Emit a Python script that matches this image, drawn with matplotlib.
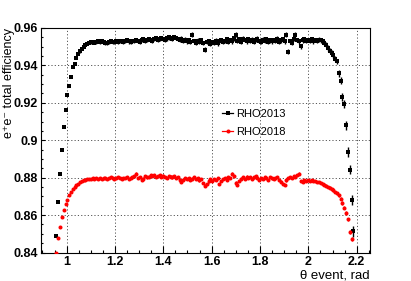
import numpy as np
import matplotlib
matplotlib.use("Agg")
import matplotlib.pyplot as plt
from matplotlib.lines import Line2D
from matplotlib.ticker import MultipleLocator, FuncFormatter

plt.rcParams['font.family'] = ['Liberation Sans', 'DejaVu Sans']

# histogram binning in theta (bin centres of first and last bin)
theta_first, theta_last = 0.958, 2.186

# RHO2013 efficiency per theta bin
eff2013 = [
    0.849, 0.867, 0.882, 0.895, 0.907, 0.916, 0.924, 0.929, 0.934, 0.939,
    0.941, 0.944, 0.946, 0.9475, 0.9489, 0.950, 0.951, 0.9516, 0.9521, 0.9524,
    0.9527, 0.9522, 0.9526, 0.9530, 0.9524, 0.9528, 0.9523, 0.9520, 0.9518, 0.9525,
    0.9529, 0.9524, 0.9527, 0.9531, 0.9526, 0.9529, 0.9533, 0.9525, 0.9530, 0.9535,
    0.9528, 0.9524, 0.9532, 0.9529, 0.9537, 0.9531, 0.9526, 0.9534, 0.9539, 0.9530,
    0.9536, 0.9542, 0.9535, 0.9531, 0.9540, 0.9545, 0.9538, 0.9543, 0.9548, 0.9541,
    0.9536, 0.9544, 0.9550, 0.9546, 0.9541, 0.9552, 0.9547, 0.9540, 0.9535, 0.9543,
    0.9531, 0.9538, 0.9529, 0.9534, 0.9526, 0.9563, 0.9530, 0.9522, 0.9533, 0.9527,
    0.9536, 0.9519, 0.9484, 0.9524, 0.9530, 0.9515, 0.9526, 0.9521, 0.9532, 0.9518,
    0.9528, 0.9537, 0.9524, 0.9530, 0.9541, 0.9527, 0.9535, 0.9529, 0.9545, 0.9565,
    0.9532, 0.9539, 0.9526, 0.9543, 0.9535, 0.9529, 0.9541, 0.9533, 0.9538, 0.9524,
    0.9536, 0.9543, 0.9530, 0.9527, 0.9538, 0.9532, 0.9540, 0.9526, 0.9534, 0.9529,
    0.9537, 0.9531, 0.9543, 0.9525, 0.9534, 0.9540, 0.9528, 0.9565, 0.9474, 0.9530,
    0.9522, 0.9541, 0.9565, 0.9536, 0.9528, 0.9503, 0.9534, 0.9541, 0.9530, 0.9537,
    0.9532, 0.9539, 0.9528, 0.9535, 0.9531, 0.9538, 0.9534, 0.9530, 0.9522, 0.9510,
    0.9493, 0.9478, 0.9466, 0.9454, 0.9436, 0.9421, 0.9359, 0.9318, 0.9230, 0.9193,
    0.9080, 0.8937, 0.8843, 0.8679, 0.8514,
]
err2013 = [
    0.0005, 0.0005, 0.0005, 0.0005, 0.0005, 0.0005, 0.0005, 0.0005, 0.0005, 0.0005,
    0.0006, 0.0006, 0.0006, 0.0006, 0.0007, 0.0007, 0.0007, 0.0008, 0.0008, 0.0008,
    0.0010, 0.0010, 0.0010, 0.0010, 0.0010, 0.0010, 0.0010, 0.0010, 0.0010, 0.0010,
    0.0010, 0.0010, 0.0010, 0.0010, 0.0010, 0.0010, 0.0010, 0.0011, 0.0010, 0.0010,
    0.0011, 0.0010, 0.0011, 0.0010, 0.0011, 0.0011, 0.0010, 0.0011, 0.0011, 0.0011,
    0.0011, 0.0011, 0.0011, 0.0011, 0.0011, 0.0011, 0.0011, 0.0011, 0.0011, 0.0011,
    0.0012, 0.0012, 0.0012, 0.0012, 0.0012, 0.0012, 0.0012, 0.0012, 0.0012, 0.0012,
    0.0012, 0.0012, 0.0012, 0.0012, 0.0012, 0.0013, 0.0012, 0.0012, 0.0012, 0.0012,
    0.0012, 0.0012, 0.0013, 0.0012, 0.0012, 0.0012, 0.0012, 0.0012, 0.0012, 0.0012,
    0.0012, 0.0012, 0.0012, 0.0012, 0.0012, 0.0012, 0.0012, 0.0012, 0.0012, 0.0013,
    0.0012, 0.0012, 0.0012, 0.0012, 0.0012, 0.0012, 0.0012, 0.0012, 0.0012, 0.0012,
    0.0012, 0.0012, 0.0012, 0.0012, 0.0012, 0.0012, 0.0012, 0.0012, 0.0012, 0.0012,
    0.0012, 0.0012, 0.0012, 0.0012, 0.0012, 0.0012, 0.0012, 0.0013, 0.0013, 0.0012,
    0.0012, 0.0012, 0.0013, 0.0012, 0.0012, 0.0013, 0.0012, 0.0012, 0.0012, 0.0012,
    0.0012, 0.0012, 0.0012, 0.0012, 0.0012, 0.0012, 0.0012, 0.0013, 0.0013, 0.0013,
    0.0014, 0.0014, 0.0014, 0.0014, 0.0015, 0.0015, 0.0019, 0.0020, 0.0022, 0.0023,
    0.0024, 0.0025, 0.0026, 0.0027, 0.0029,
]

# RHO2018 efficiency per theta bin
eff2018 = [
    0.8400, 0.8477, 0.8535, 0.8589, 0.8625, 0.8661, 0.8682, 0.8709, 0.8723, 0.8737,
    0.8750, 0.8759, 0.8768, 0.8775, 0.8780, 0.8786, 0.8789, 0.8791, 0.8793, 0.8795,
    0.8796, 0.8794, 0.8797, 0.8795, 0.8798, 0.8794, 0.8796, 0.8799, 0.8795, 0.8797,
    0.8801, 0.8796, 0.8794, 0.8799, 0.8802, 0.8796, 0.8793, 0.8800, 0.8797, 0.8803,
    0.8791, 0.8799, 0.8805, 0.8810, 0.8822, 0.8798, 0.8803, 0.8789, 0.8795, 0.8808,
    0.8801, 0.8806, 0.8815, 0.8807, 0.8812, 0.8803, 0.8809, 0.8816, 0.8805, 0.8811,
    0.8804, 0.8799, 0.8810, 0.8806, 0.8801, 0.8808, 0.8797, 0.8803, 0.8786, 0.8779,
    0.8790, 0.8798, 0.8792, 0.8799, 0.8788, 0.8795, 0.8802, 0.8791, 0.8797, 0.8785,
    0.8792, 0.8770, 0.8758, 0.8765, 0.8780, 0.8791, 0.8784, 0.8793, 0.8786, 0.8798,
    0.8768, 0.8781, 0.8792, 0.8799, 0.8787, 0.8803, 0.8797, 0.8822, 0.8808, 0.8774,
    0.8762, 0.8783, 0.8795, 0.8801, 0.8792, 0.8806, 0.8798, 0.8803, 0.8795, 0.8801,
    0.8808, 0.8797, 0.8790, 0.8800, 0.8794, 0.8805, 0.8799, 0.8788, 0.8802, 0.8796,
    0.8791, 0.8799, 0.8804, 0.8786, 0.8779, 0.8768, 0.8760, 0.8785, 0.8797, 0.8805,
    0.8800, 0.8810, 0.8806, 0.8815, 0.8822, 0.8781, 0.8778, 0.8786, 0.8782, 0.8788,
    0.8784, 0.8786, 0.8781, 0.8783, 0.8778, 0.8776, 0.8772, 0.8768, 0.8763, 0.8758,
    0.8752, 0.8747, 0.8740, 0.8732, 0.8724, 0.8716, 0.8705, 0.8687, 0.8665, 0.8640,
    0.8610, 0.8577, 0.8509, 0.8473, 0.8380,
]
err2018 = [
    0.0004, 0.0004, 0.0004, 0.0004, 0.0004, 0.0004, 0.0004, 0.0004, 0.0004, 0.0004,
    0.0004, 0.0004, 0.0004, 0.0004, 0.0004, 0.0004, 0.0004, 0.0004, 0.0004, 0.0004,
    0.0005, 0.0005, 0.0005, 0.0005, 0.0005, 0.0005, 0.0005, 0.0005, 0.0005, 0.0005,
    0.0005, 0.0005, 0.0005, 0.0005, 0.0005, 0.0005, 0.0005, 0.0005, 0.0005, 0.0005,
    0.0006, 0.0006, 0.0006, 0.0006, 0.0006, 0.0006, 0.0006, 0.0006, 0.0006, 0.0006,
    0.0006, 0.0006, 0.0006, 0.0006, 0.0006, 0.0006, 0.0006, 0.0006, 0.0006, 0.0006,
    0.0006, 0.0006, 0.0006, 0.0006, 0.0006, 0.0006, 0.0006, 0.0006, 0.0006, 0.0006,
    0.0006, 0.0006, 0.0006, 0.0006, 0.0006, 0.0006, 0.0006, 0.0006, 0.0006, 0.0006,
    0.0006, 0.0006, 0.0006, 0.0006, 0.0006, 0.0006, 0.0006, 0.0006, 0.0006, 0.0006,
    0.0006, 0.0006, 0.0006, 0.0006, 0.0006, 0.0006, 0.0006, 0.0006, 0.0006, 0.0006,
    0.0006, 0.0006, 0.0006, 0.0006, 0.0006, 0.0006, 0.0006, 0.0006, 0.0006, 0.0006,
    0.0006, 0.0006, 0.0006, 0.0006, 0.0006, 0.0006, 0.0006, 0.0006, 0.0006, 0.0006,
    0.0006, 0.0006, 0.0006, 0.0006, 0.0006, 0.0006, 0.0006, 0.0006, 0.0006, 0.0006,
    0.0006, 0.0006, 0.0006, 0.0006, 0.0006, 0.0006, 0.0006, 0.0006, 0.0006, 0.0006,
    0.0006, 0.0006, 0.0006, 0.0006, 0.0006, 0.0006, 0.0006, 0.0006, 0.0006, 0.0006,
    0.0006, 0.0006, 0.0006, 0.0007, 0.0007, 0.0007, 0.0008, 0.0008, 0.0009, 0.0009,
    0.0010, 0.0010, 0.0011, 0.0011, 0.0012,
]

labels = ['RHO2013', 'RHO2018']
colors = ['black', 'red']
markers = ['s', 'o']

theta = np.linspace(theta_first, theta_last, len(eff2013))

fig = plt.figure(figsize=(4.11, 2.81), dpi=100)
W, H = 411, 281
ax = fig.add_axes([41 / W, (H - 252.5) / H, 329 / W, 224.5 / H])

for eff, err, c, m in zip([eff2013, eff2018], [err2013, err2018], colors, markers):
    ax.errorbar(theta, eff, yerr=err, fmt=m, color=c, ms=2.9, mew=0,
                elinewidth=1.0, capsize=0, zorder=3)

ax.set_xlim(0.894, 2.255)
ax.set_ylim(0.84, 0.96)

fmt = FuncFormatter(lambda v, p: '%g' % round(v, 3))
ax.xaxis.set_major_locator(MultipleLocator(0.2))
ax.xaxis.set_minor_locator(MultipleLocator(0.05))
ax.yaxis.set_major_locator(MultipleLocator(0.02))
ax.yaxis.set_minor_locator(MultipleLocator(0.005))
ax.xaxis.set_major_formatter(fmt)
ax.yaxis.set_major_formatter(fmt)

ax.tick_params(axis='x', which='major', direction='in', length=4.7, width=0.8, pad=2.5)
ax.tick_params(axis='x', which='minor', direction='in', length=2.5, width=0.8)
ax.tick_params(axis='y', which='major', direction='in', length=3.0, width=0.8, pad=2.0)
ax.tick_params(axis='y', which='minor', direction='in', length=1.5, width=0.8)
for lab in ax.get_xticklabels() + ax.get_yticklabels():
    lab.set_fontsize(9)
    lab.set_fontweight('bold')

for s in ax.spines.values():
    s.set_linewidth(0.8)

ax.grid(True, which='major', color='#555555', linestyle=(0, (1.2, 2.2)), linewidth=0.7)
ax.set_axisbelow(True)

ax.set_xlabel('\u03b8 event, rad', fontsize=9.5, loc='right')
ax.xaxis.set_label_coords(1.0, -0.075)
ax.set_ylabel('e\u207ae\u207b total efficiency', fontsize=9, loc='top')
ax.yaxis.set_label_coords(-0.079, 1.0)

handles = [Line2D([], [], color=c, marker=m, ms=2.9, mew=0, lw=0.9)
           for c, m in zip(colors, markers)]
ax.legend(handles, labels, loc='upper left', bbox_to_anchor=(0.55, 0.64),
          frameon=False, fontsize=8, handlelength=1.0, handletextpad=0.25,
          labelspacing=0.75, borderpad=0, borderaxespad=0)

fig.savefig('out.png', dpi=100)
